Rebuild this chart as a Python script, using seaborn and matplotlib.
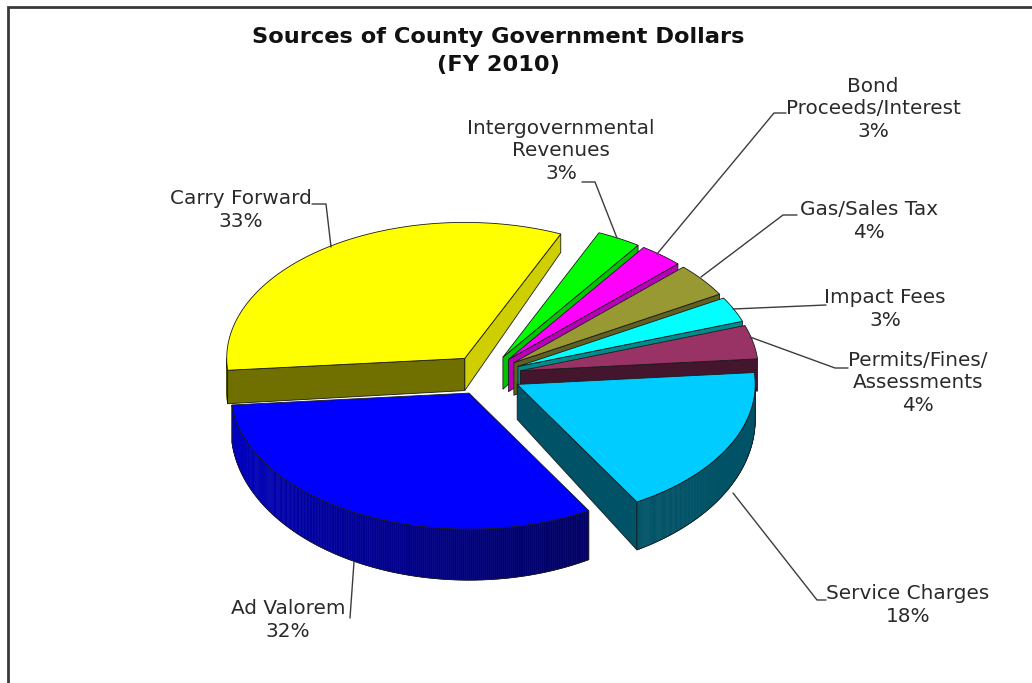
import numpy as np
import matplotlib
matplotlib.use("Agg")
import matplotlib.pyplot as plt
from matplotlib.patches import Polygon
from matplotlib.colors import to_rgb
import seaborn as sns

# ---- data -------------------------------------------------------------
categories = [
    "Carry Forward",
    "Intergovernmental\nRevenues",
    "Bond\nProceeds/Interest",
    "Gas/Sales Tax",
    "Impact Fees",
    "Permits/Fines/\nAssessments",
    "Service Charges",
    "Ad Valorem",
]
shares = [33, 3, 3, 4, 3, 4, 18, 32]
top_colors = ["#FFFF00", "#00FF00", "#FF00FF", "#999933",
              "#00FFFF", "#993366", "#00CCFF", "#0000FF"]

# ---- label layout (pixel space) ---------------------------------------
label_centers = [(241, 210), (561, 151), (873, 109), (869, 221),
                 (885, 309), (918, 383), (908, 605), (288, 620)]
leader_paths = [
    [(312, 204), (326, 204), (331, 247)],
    [(582, 182), (595, 182), (617, 238)],
    [(786, 113), (774, 113), (657, 254)],
    [(797, 215), (783, 215), (701, 277)],
    [(826, 305), (733, 309)],
    [(848, 368), (835, 368), (750, 337)],
    [(826, 600), (817, 600), (733, 493)],
    [(350, 618), (354, 562)],
]

sns.set_theme(style="white")
plt.rcParams["font.family"] = ["DejaVu Sans"]

W, H = 1032, 683
fig = plt.figure(figsize=(W / 100, H / 100), dpi=100)
fig.patch.set_facecolor("white")
ax = fig.add_axes([0, 0, 1, 1])
ax.set_xlim(0, W)
ax.set_ylim(H, 0)
ax.axis("off")

# ---- 3-D pie geometry --------------------------------------------------
CX, CY = 485.5, 375.0      # centre of the top face
RX, RY = 238.0, 136.0      # top-face ellipse radii
START_ANGLE = 185.0        # first slice starts here, slices run clockwise
EXPLODE = 0.15             # explosion, in units of radius
DEPTH0, DEPTH_SLOPE = 34.0, 15.0   # thickness, larger towards the viewer
EDGE = "#1a1a1a"


def shade(color, f):
    r, g, b = to_rgb(color)
    return (r * f, g * f, b * f)


def top_xy(u, w):
    return CX + RX * u, CY - RY * w


def bot_xy(u, w):
    x, y = top_xy(u, w)
    return x, y + DEPTH0 - DEPTH_SLOPE * w


fractions = np.asarray(shares, dtype=float) / np.sum(shares)
bounds = START_ANGLE - 360.0 * np.concatenate([[0.0], np.cumsum(fractions)])

slices = []
for i in range(len(shares)):
    hi, lo = bounds[i], bounds[i + 1]
    mid = np.radians((hi + lo) / 2)
    slices.append((i, lo, hi, EXPLODE * np.cos(mid), EXPLODE * np.sin(mid), np.sin(mid)))

# paint from the back of the pie to the front
slices.sort(key=lambda s: -s[5])

z = 2
for i, lo, hi, eu, ew, _ in slices:
    col = top_colors[i]
    th = np.radians(np.linspace(lo, hi, 240))
    us, ws = eu + np.cos(th), ew + np.sin(th)

    # radial cut faces
    for ang, is_start in ((lo, True), (hi, False)):
        a = np.radians(ang)
        visible = np.cos(a) > 1e-9 if is_start else np.cos(a) < -1e-9
        if not visible:
            continue
        nx = np.sin(a) if is_start else -np.sin(a)
        f = 0.4 + 0.45 * max(0.0, nx)
        ou, ow = eu + np.cos(a), ew + np.sin(a)
        poly = [top_xy(eu, ew), top_xy(ou, ow), bot_xy(ou, ow), bot_xy(eu, ew)]
        ax.add_patch(Polygon(poly, closed=True, facecolor=shade(col, f),
                             edgecolor=EDGE, lw=0.6, zorder=z))
        z += 1

    # curved outer wall (front half only)
    front = np.sin(th) < 0
    if front.sum() > 1:
        idx = np.where(front)[0]
        for j0, j1 in zip(idx[:-1], idx[1:]):
            phi = np.degrees(th[j0]) % 360
            f = 0.8 - 0.4 * min(1.0, max(0.0, (phi - 180) / 115))
            c = shade(col, f)
            quad = [top_xy(us[j0], ws[j0]), top_xy(us[j1], ws[j1]),
                    bot_xy(us[j1], ws[j1]), bot_xy(us[j0], ws[j0])]
            ax.add_patch(Polygon(quad, closed=True, facecolor=c,
                                 edgecolor=c, lw=0.4, zorder=z))
        outline = ([top_xy(us[j], ws[j]) for j in idx] +
                   [bot_xy(us[j], ws[j]) for j in idx[::-1]])
        z += 1
        ax.add_patch(Polygon(outline, closed=True, fill=False,
                             edgecolor=EDGE, lw=0.6, zorder=z))
        z += 1

    # top face
    poly = [top_xy(eu, ew)] + [top_xy(u, w) for u, w in zip(us, ws)]
    ax.add_patch(Polygon(poly, closed=True, facecolor=col,
                         edgecolor=EDGE, lw=0.6, zorder=z))
    z += 1

# ---- labels and leader lines ------------------------------------------
for name, share, (lx, ly), path in zip(categories, shares, label_centers, leader_paths):
    ax.text(lx, ly, f"{name}\n{share}%", ha="center", va="center",
            multialignment="center", fontsize=14.4, color="#2a2a2a",
            linespacing=1.26, zorder=50)
    px, py = zip(*path)
    ax.plot(px, py, color="#3c3c3c", lw=1.0, zorder=49)

ax.text(498, 51, "Sources of County Government Dollars\n(FY 2010)",
        ha="center", va="center", multialignment="center",
        fontsize=16.2, fontweight="bold", color="#111111", linespacing=1.46)

# frame around the chart area
ax.plot([8, 8, W], [H, 7, 7], color="#3a3a3a", lw=2.0,
        solid_joinstyle="miter", clip_on=False, zorder=60)

fig.savefig("out.png", dpi=100, facecolor="white")
